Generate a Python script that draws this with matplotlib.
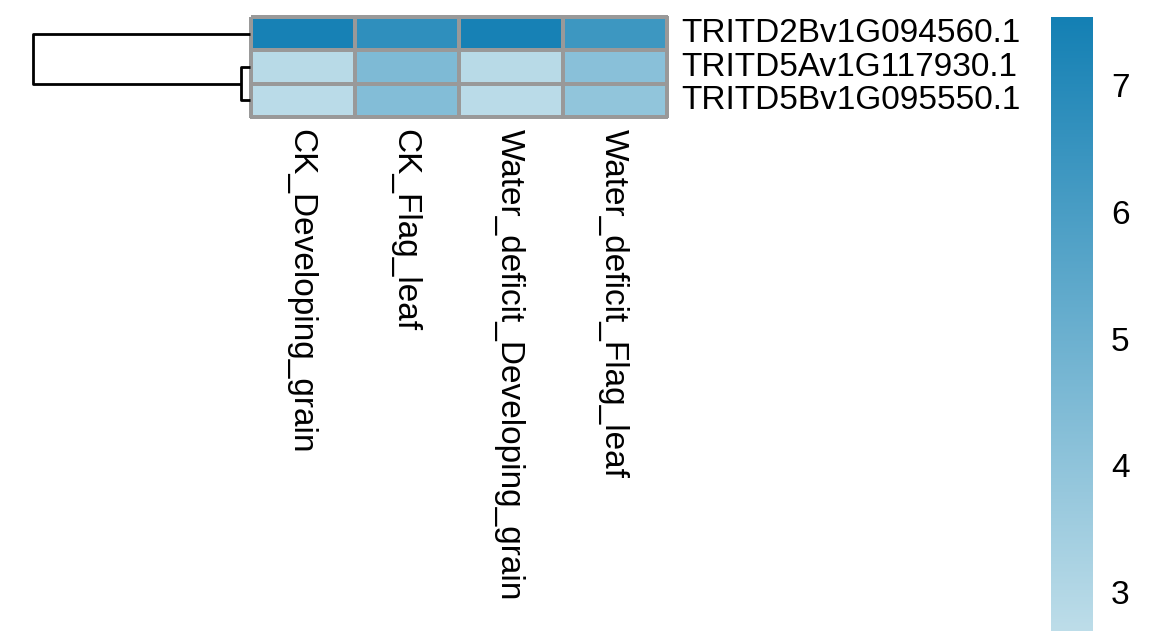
import numpy as np
import matplotlib
matplotlib.use("Agg")
import matplotlib.pyplot as plt
from matplotlib.colors import LinearSegmentedColormap, Normalize

plt.rcParams['font.family'] = ['Liberation Sans', 'DejaVu Sans']

genes = ["TRITD2Bv1G094560.1", "TRITD5Av1G117930.1", "TRITD5Bv1G095550.1"]
samples = ["CK_Developing_grain", "CK_Flag_leaf", "Water_deficit_Developing_grain", "Water_deficit_Flag_leaf"]
row1 = [7.45, 6.75, 7.45, 6.35]
row2 = [2.85, 4.50, 2.85, 4.20]
row3 = [2.80, 4.35, 2.80, 3.95]
cbar_ticks = [3, 4, 5, 6, 7]
vmin, vmax = 2.69, 7.54

data = np.array([row1, row2, row3])
cmap = LinearSegmentedColormap.from_list("bl", ["#BDDDE9", "#1480B4"])
norm = Normalize(vmin=vmin, vmax=vmax)

W, H = 1170, 631
fig = plt.figure(figsize=(W / 100, H / 100), dpi=100)

def ax_px(x0, y0, x1, y1):
    return fig.add_axes([x0 / W, 1 - y1 / H, (x1 - x0) / W, (y1 - y0) / H])

# heatmap
hx0, hy0, hx1, hy1 = 251, 17, 667, 117
ax = ax_px(hx0, hy0, hx1, hy1)
nr, nc = data.shape
mesh = ax.pcolormesh(np.arange(nc + 1), np.arange(nr + 1), data, cmap=cmap, norm=norm,
                     edgecolor="#999999", linewidth=1.7)
mesh.set_clip_on(False)
ax.set_xlim(0, nc)
ax.set_ylim(nr, 0)
ax.set_xticks([]); ax.set_yticks([])
for s in ax.spines.values():
    s.set_visible(False)

fs = 24
cw = (hx1 - hx0) / nc
rh = (hy1 - hy0) / nr
for i, g in enumerate(genes):
    fig.text(681 / W, 1 - (hy0 + rh * (i + 0.5)) / H, g, ha="left", va="center", fontsize=fs)
for j, s in enumerate(samples):
    fig.text((hx0 + cw * (j + 0.5) - 2) / W, 1 - 129 / H, s, rotation=270,
             ha="center", va="top", fontsize=fs)

# dendrogram (complete linkage, euclidean)
d = lambda a, b: np.sqrt(np.sum((data[a] - data[b]) ** 2))
pairs = {(0, 1): d(0, 1), (0, 2): d(0, 2), (1, 2): d(1, 2)}
(a, b), h1 = min(pairs.items(), key=lambda kv: kv[1])
other = [k for k in range(3) if k not in (a, b)][0]
h2 = max(d(other, a), d(other, b))
axd = ax_px(33, hy0, hx0 - 1, hy1)
yc = lambda k: k + 0.5
kw = dict(color="black", lw=2, solid_capstyle="butt")
ym = (yc(a) + yc(b)) / 2
axd.plot([0, h1, h1, 0], [yc(a), yc(a), yc(b), yc(b)], clip_on=False, **kw)
axd.plot([h1, h2, h2, 0], [ym, ym, yc(other), yc(other)], clip_on=False, **kw)
axd.set_xlim(h2, 0)
axd.set_ylim(nr, 0)
axd.axis("off")

# colorbar
cax = ax_px(1051, 17, 1093, 631)
grad = np.linspace(vmin, vmax, 256).reshape(-1, 1)
cax.imshow(grad, aspect="auto", cmap=cmap, norm=norm, origin="lower",
           extent=[0, 1, vmin, vmax])
cax.set_xticks([])
cax.yaxis.tick_right()
cax.set_yticks(cbar_ticks)
cax.tick_params(axis="y", length=0, labelsize=fs, pad=13)
for s in cax.spines.values():
    s.set_visible(False)

fig.savefig("out.png", dpi=100)
